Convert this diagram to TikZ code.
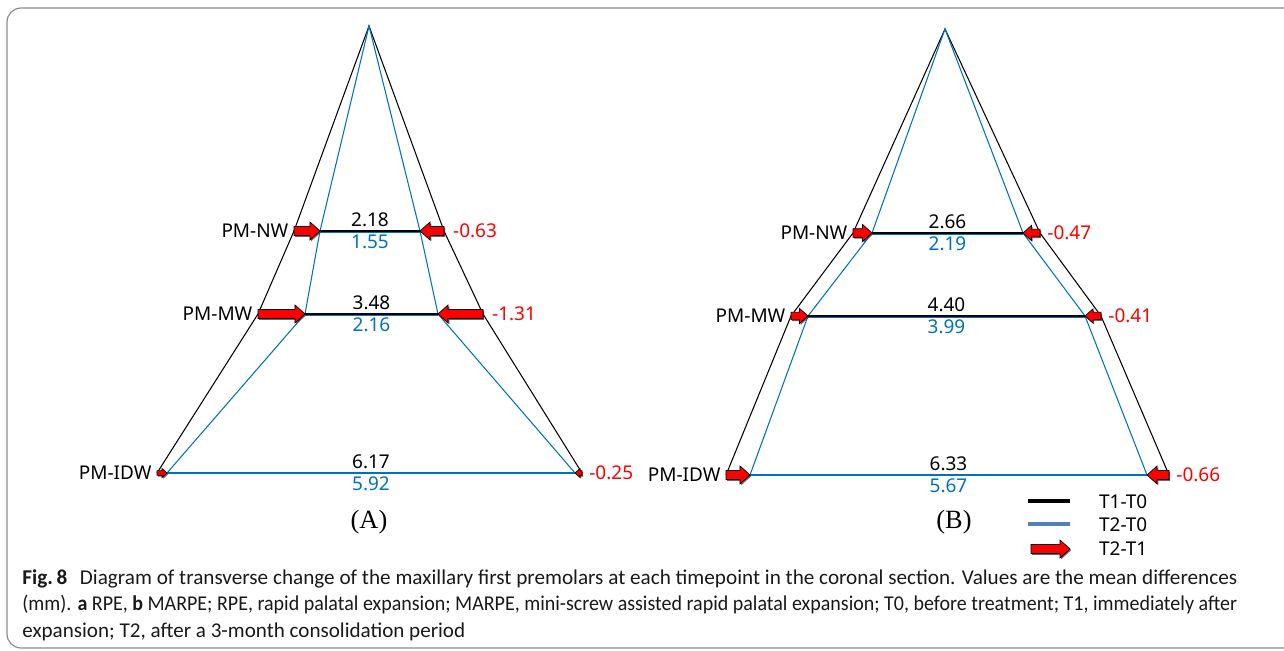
\documentclass[tikz,border=0pt]{standalone}
\usepackage{fontspec}
\usepackage{graphicx}
\setmainfont{Liberation Serif}
\newfontfamily\etiq{Noto Sans}
\newfontfamily\pie{Carlito}
\usetikzlibrary{calc,shadows}

\definecolor{azul}{HTML}{0070C0}
\definecolor{rojo}{HTML}{FF0000}
\definecolor{azulleg}{HTML}{4F81BD}
\definecolor{marcogris}{HTML}{8C8C8C}

% Flecha de bloque (T2-T1) entre dos puntos con la misma altura
\newcommand{\flecha}[2]{%
  \draw[flecha] let \p1=(#1), \p2=(#2),
    \n1={sign(\x2-\x1)}, \n2={max(0.5,min(1,abs(\x2-\x1)/11.4pt))}
  in (\x1,{\y1+\n2*2.6pt})
  -- ({\x2-\n1*\n2*5.7pt},{\y1+\n2*2.6pt})
  -- ({\x2-\n1*\n2*5.7pt},{\y1+\n2*5.1pt})
  -- (\x2,\y1)
  -- ({\x2-\n1*\n2*5.7pt},{\y1-\n2*5.1pt})
  -- ({\x2-\n1*\n2*5.7pt},{\y1-\n2*2.6pt})
  -- (\x1,{\y1-\n2*2.6pt}) -- cycle;}

% Linea del pie ajustada al ancho
\newcommand{\lineapie}[1]{\resizebox{24.3cm}{\height}{#1}}

\begin{document}
\begin{tikzpicture}[x=0.02cm, y=-0.02cm,
    t1/.style={black, line width=0.6pt},
    t2/.style={azul, line width=0.6pt},
    etq/.style={font=\etiq\fontsize{10.8}{12}\selectfont, inner sep=1pt},
    val1/.style={etq, black, inner sep=2pt},
    val2/.style={etq, azul, inner sep=2pt},
    cambio/.style={etq, rojo},
    panel/.style={font=\fontsize{15}{18}\selectfont},
    flecha/.style={draw=black, line width=0.4pt, fill=rojo,
      drop shadow={shadow xshift=0.7pt, shadow yshift=-0.7pt, fill=black!75, opacity=0.8}},
    piefig/.style={font=\pie\fontsize{12}{14}\selectfont, text=black!90, inner sep=0pt}]

    \useasboundingbox (0,0) rectangle (1284,651);

    % Marco
    \draw[marcogris, line width=0.7pt, rounded corners=8pt] (7,8) rectangle (1300,648);

    % Panel A: puntos
    \coordinate (Atop) at (369,26);
    \coordinate (Anw1l) at (294,231);  \coordinate (Anw1r) at (444,231);
    \coordinate (Anw2l) at (320,231);  \coordinate (Anw2r) at (420,231);
    \coordinate (Amw1l) at (258,314);  \coordinate (Amw1r) at (483,314);
    \coordinate (Amw2l) at (305,314);  \coordinate (Amw2r) at (438,314);
    \coordinate (Aid1l) at (157,473);  \coordinate (Aid1r) at (582,473);
    \coordinate (Aid2l) at (167,473);  \coordinate (Aid2r) at (575,473);

    % Panel A: contornos
    \draw[t1] (Aid1l) -- (Amw1l) -- (Anw1l) -- (Atop) -- (Anw1r) -- (Amw1r) -- (Aid1r);
    \draw[t2] (Aid2l) -- (Amw2l) -- (Anw2l) -- (Atop) -- (Anw2r) -- (Amw2r) -- (Aid2r);
    \draw[t1] (Anw2l) -- (Anw2r);
    \draw[t2] ([yshift=-0.6pt]Anw2l) -- ([yshift=-0.6pt]Anw2r);
    \draw[t1] (Amw2l) -- (Amw2r);
    \draw[t2] ([yshift=-0.6pt]Amw2l) -- ([yshift=-0.6pt]Amw2r);
    \draw[t1] (Aid2l) -- (Aid2r);
    \draw[t2] (Aid2l) -- (Aid2r);

    % Panel A: flechas
    \flecha{Anw1l}{Anw2l}  \flecha{Anw1r}{Anw2r}
    \flecha{Amw1l}{Amw2l}  \flecha{Amw1r}{Amw2r}
    \flecha{Aid1l}{Aid2l}  \flecha{Aid1r}{Aid2r}

    % Panel A: etiquetas
    \node[etq, anchor=east] (Anwlbl) at ([xshift=-2pt]Anw1l) {PM-NW};
    \node[etq, anchor=east] (Amwlbl) at ([xshift=-2pt]Amw1l) {PM-MW};
    \node[etq, anchor=east] (Aidlbl) at ([xshift=-2pt]Aid1l) {PM-IDW};
    \node[val1, anchor=south] (Anwv1) at ($(Anw2l)!0.5!(Anw2r)$) {2.18};
    \node[val2, anchor=north] (Anwv2) at ($(Anw2l)!0.5!(Anw2r)$) {1.55};
    \node[val1, anchor=south] (Amwv1) at ($(Amw2l)!0.5!(Amw2r)$) {3.48};
    \node[val2, anchor=north] (Amwv2) at ($(Amw2l)!0.5!(Amw2r)$) {2.16};
    \node[val1, anchor=south] (Aidv1) at ($(Aid2l)!0.5!(Aid2r)$) {6.17};
    \node[val2, anchor=north] (Aidv2) at ($(Aid2l)!0.5!(Aid2r)$) {5.92};
    \node[cambio, anchor=west] (Anwch) at ([xshift=4pt]Anw1r) {-0.63};
    \node[cambio, anchor=west] (Amwch) at ([xshift=4pt]Amw1r) {-1.31};
    \node[cambio, anchor=west] (Aidch) at ([xshift=3pt]Aid1r) {-0.25};
    \node[panel] (Atit) at (369,522) {(A)};

    % Panel B: puntos
    \coordinate (Btop) at (945,29);
    \coordinate (Bnw1l) at (853,233);  \coordinate (Bnw1r) at (1040,233);
    \coordinate (Bnw2l) at (872,233);  \coordinate (Bnw2r) at (1023,233);
    \coordinate (Bmw1l) at (791,316);  \coordinate (Bmw1r) at (1101,316);
    \coordinate (Bmw2l) at (808,316);  \coordinate (Bmw2r) at (1085,316);
    \coordinate (Bid1l) at (726,475);  \coordinate (Bid1r) at (1169,475);
    \coordinate (Bid2l) at (750,475);  \coordinate (Bid2r) at (1147,475);

    % Panel B: contornos
    \draw[t1] (Bid1l) -- (Bmw1l) -- (Bnw1l) -- (Btop) -- (Bnw1r) -- (Bmw1r) -- (Bid1r);
    \draw[t2] (Bid2l) -- (Bmw2l) -- (Bnw2l) -- (Btop) -- (Bnw2r) -- (Bmw2r) -- (Bid2r);
    \draw[t1] (Bnw2l) -- (Bnw2r);
    \draw[t2] ([yshift=-0.6pt]Bnw2l) -- ([yshift=-0.6pt]Bnw2r);
    \draw[t1] (Bmw2l) -- (Bmw2r);
    \draw[t2] ([yshift=-0.6pt]Bmw2l) -- ([yshift=-0.6pt]Bmw2r);
    \draw[t1] (Bid2l) -- (Bid2r);
    \draw[t2] (Bid2l) -- (Bid2r);

    % Panel B: flechas
    \flecha{Bnw1l}{Bnw2l}  \flecha{Bnw1r}{Bnw2r}
    \flecha{Bmw1l}{Bmw2l}  \flecha{Bmw1r}{Bmw2r}
    \flecha{Bid1l}{Bid2l}  \flecha{Bid1r}{Bid2r}

    % Panel B: etiquetas
    \node[etq, anchor=east] (Bnwlbl) at ([xshift=-2pt]Bnw1l) {PM-NW};
    \node[etq, anchor=east] (Bmwlbl) at ([xshift=-2pt]Bmw1l) {PM-MW};
    \node[etq, anchor=east] (Bidlbl) at ([xshift=-2pt]Bid1l) {PM-IDW};
    \node[val1, anchor=south] (Bnwv1) at ($(Bnw2l)!0.5!(Bnw2r)$) {2.66};
    \node[val2, anchor=north] (Bnwv2) at ($(Bnw2l)!0.5!(Bnw2r)$) {2.19};
    \node[val1, anchor=south] (Bmwv1) at ($(Bmw2l)!0.5!(Bmw2r)$) {4.40};
    \node[val2, anchor=north] (Bmwv2) at ($(Bmw2l)!0.5!(Bmw2r)$) {3.99};
    \node[val1, anchor=south] (Bidv1) at ($(Bid2l)!0.5!(Bid2r)$) {6.33};
    \node[val2, anchor=north] (Bidv2) at ($(Bid2l)!0.5!(Bid2r)$) {5.67};
    \node[cambio, anchor=west] (Bnwch) at ([xshift=3pt]Bnw1r) {-0.47};
    \node[cambio, anchor=west] (Bmwch) at ([xshift=3pt]Bmw1r) {-0.41};
    \node[cambio, anchor=west] (Bidch) at ([xshift=3pt]Bid1r) {-0.66};
    \node[panel] (Btit) at (954,522) {(B)};

    % Leyenda
    \coordinate (L1a) at (1028,501);  \coordinate (L1b) at (1070,501);
    \coordinate (L2a) at (1028,524);  \coordinate (L2b) at (1070,524);
    \coordinate (L3a) at (1031,549);  \coordinate (L3b) at (1070,549);
    \draw[black, line width=2.2pt] (L1a) -- (L1b);
    \draw[azulleg, line width=2.2pt] (L2a) -- (L2b);
    \flecha{L3a}{L3b}
    \node[etq, anchor=west] (L1t) at (1097,502) {T1-T0};
    \node[etq, anchor=west] (L2t) at (1097,525) {T2-T0};
    \node[etq, anchor=west] (L3t) at (1097,549) {T2-T1};

    % Pie de figura
    \node[piefig, anchor=base west] (cap1) at (22,584) {\lineapie{\textbf{Fig.\,8}\hspace{0.6em}Diagram of transverse change of the maxillary first premolars at each timepoint in the coronal section. Values are the mean differences}};
    \node[piefig, anchor=base west] (cap2) at (22,610.5) {\lineapie{(mm). \textbf{a} RPE, \textbf{b} MARPE; RPE, rapid palatal expansion; MARPE, mini-screw assisted rapid palatal expansion; T0, before treatment; T1, immediately after}};
    \node[piefig, anchor=base west] (cap3) at (22,637) {expansion; T2, after a 3-month consolidation period};

\end{tikzpicture}
\end{document}
